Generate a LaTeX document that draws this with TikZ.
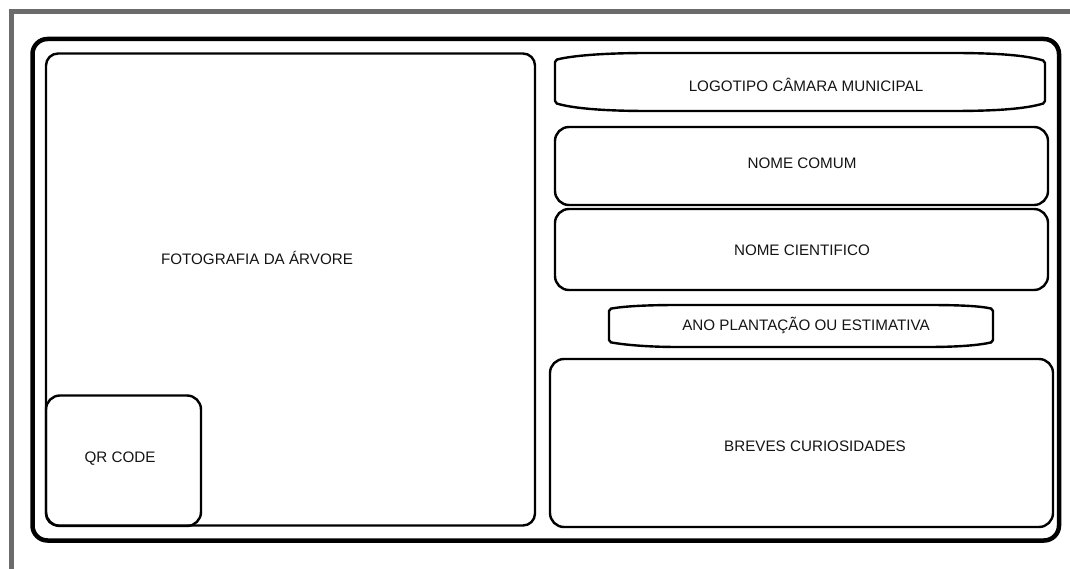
\documentclass[tikz,border=0pt]{standalone}
\usepackage{fontspec}
\setmainfont{Liberation Sans}
\begin{document}
\begin{tikzpicture}[x=1pt,y=-1pt,
  frame/.style={line width=4.5pt,rounded corners=15pt},
  box/.style={line width=2.4pt,rounded corners=14pt},
  bulge/.style={line width=2.4pt,rounded corners=2pt},
  lbl/.style={font=\fontsize{15.2}{17}\selectfont,text=black!92}]
\useasboundingbox (0,0) rectangle (1070,569);
\fill[white] (0,0) rectangle (1070,569);
% gray outer frame (top and left only)
\draw[line width=4.5pt,color=black!58] (11.5,569) -- (11.5,11.7) -- (1070,11.7);
% main black frame
\draw[frame] (32.5,39) rectangle (1059,540.5);
% photo box
\draw[box,rounded corners=12pt] (46,53.5) rectangle (535,525.5);
% QR box
\draw[box] (46,395.5) rectangle (201,526);
% logotipo bulged shape
\draw[bulge] (555,60) .. controls (575,55) and (610,53) .. (650,53) -- (950,53)
  .. controls (995,53) and (1025,55) .. (1045,61) -- (1045,103)
  .. controls (1025,109) and (995,111) .. (950,111) -- (650,111)
  .. controls (610,111) and (575,109) .. (555,103) -- cycle;
% nome comum
\draw[box] (555,127) rectangle (1048,205);
% nome cientifico
\draw[box] (555,209) rectangle (1048,290);
% ano plantacao bulged shape
\draw[bulge] (609,309) .. controls (625,306) and (650,305) .. (680,305) -- (925,305)
  .. controls (960,305) and (980,306) .. (993,309) -- (993,342)
  .. controls (980,345) and (960,347) .. (925,347) -- (680,347)
  .. controls (650,347) and (625,345) .. (609,342) -- cycle;
% breves curiosidades
\draw[box] (550,359) rectangle (1053,527);
% labels
\node[lbl] (foto) at (257,258) {FOTOGRAFIA DA ÁRVORE};
\node[lbl] (qr) at (120,459) {QR CODE};
\node[lbl] (logo) at (806,85) {LOGOTIPO CÂMARA MUNICIPAL};
\node[lbl] (comum) at (802,163) {NOME COMUM};
\node[lbl] (cient) at (802,250) {NOME CIENTIFICO};
\node[lbl] (ano) at (806,325) {ANO PLANTAÇÃO OU ESTIMATIVA};
\node[lbl] (breves) at (815,446) {BREVES CURIOSIDADES};
\end{tikzpicture}
\end{document}
